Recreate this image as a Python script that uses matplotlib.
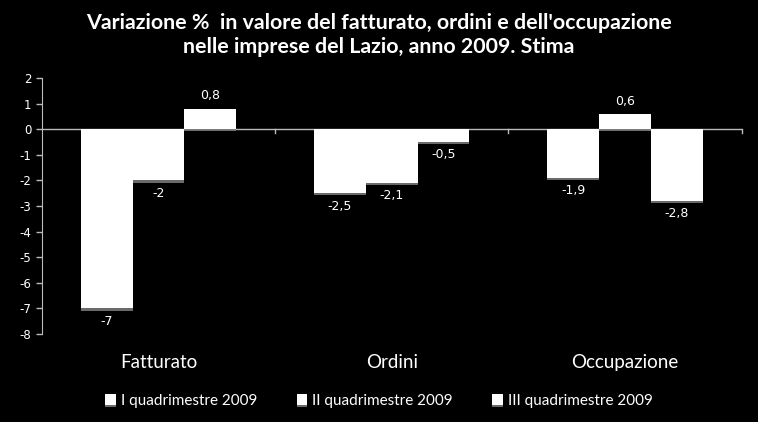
import numpy as np
import matplotlib
matplotlib.use("Agg")
import matplotlib.pyplot as plt
import matplotlib.patheffects as pe

categories = ["Fatturato", "Ordini", "Occupazione"]
series_names = ["I quadrimestre 2009", "II quadrimestre 2009", "III quadrimestre 2009"]
q1 = [-7, -2.5, -1.9]
q2 = [-2, -2.1, 0.6]
q3 = [0.8, -0.5, -2.8]
y_ticks = list(range(-8, 3))

fig = plt.figure(figsize=(7.58, 4.22), dpi=100, facecolor="black")
ax = fig.add_axes([0.0554, 0.2085, 0.923, 0.6065], facecolor="black")

x = np.arange(len(categories))
width = 0.222
shadow = [pe.SimplePatchShadow(offset=(0, -1.5), shadow_rgbFace="#777777", alpha=0.9), pe.Normal()]

handles = []
for i, (vals, name) in enumerate(zip([q1, q2, q3], series_names)):
    pos = x + (i - 1) * width
    bars = ax.bar(pos, vals, width, color="white", edgecolor="none", label=name, zorder=3)
    for b in bars:
        b.set_path_effects(shadow)
    handles.append(bars)
    for px, v in zip(pos, vals):
        lbl = ("%g" % v).replace(".", ",")
        if v >= 0:
            ax.text(px, v + 0.25, lbl, ha="center", va="bottom", color="white",
                    fontsize=9, family="DejaVu Sans")
        else:
            ax.text(px, v - 0.25, lbl, ha="center", va="top", color="white",
                    fontsize=9, family="DejaVu Sans")

ax.set_xlim(-0.5, 2.5)
ax.set_ylim(-8, 2)
ax.set_yticks(y_ticks)
ax.set_yticklabels([str(t) for t in y_ticks], color="white", fontsize=8.5, family="DejaVu Sans")
ax.tick_params(axis="y", colors="#bbbbbb", length=4, width=1, labelcolor="white")

# category separator ticks on the zero line
ax.axhline(0, color="#bbbbbb", lw=1, zorder=2)
for sx in [0.5, 1.5, 2.5]:
    ax.plot([sx, sx], [0, -0.15], color="#bbbbbb", lw=1, zorder=2, clip_on=False)

ax.set_xticks([])
for xi, c in zip(x, categories):
    ax.text(xi, -9.1, c, ha="center", va="center", color="white", fontsize=13.5,
            family="Lato", clip_on=False)

for s in ["top", "right", "bottom"]:
    ax.spines[s].set_visible(False)
ax.spines["left"].set_color("#bbbbbb")

fig.text(0.5, 0.945, "Variazione %  in valore del fatturato, ordini e dell'occupazione",
         ha="center", va="center", color="white", fontsize=15.4, fontweight="bold", family="Lato")
fig.text(0.5, 0.888, "nelle imprese del Lazio, anno 2009. Stima",
         ha="center", va="center", color="white", fontsize=15.4, fontweight="bold", family="Lato")

leg = fig.legend(handles=handles, labels=series_names, loc="center", bbox_to_anchor=(0.5, 0.05),
                 ncol=3, frameon=False, handlelength=0.7, handleheight=0.7,
                 handletextpad=0.3, columnspacing=2.6, prop={"family": "Lato", "size": 11})
for t in leg.get_texts():
    t.set_color("white")

fig.savefig("out.png", dpi=100, facecolor="black")
